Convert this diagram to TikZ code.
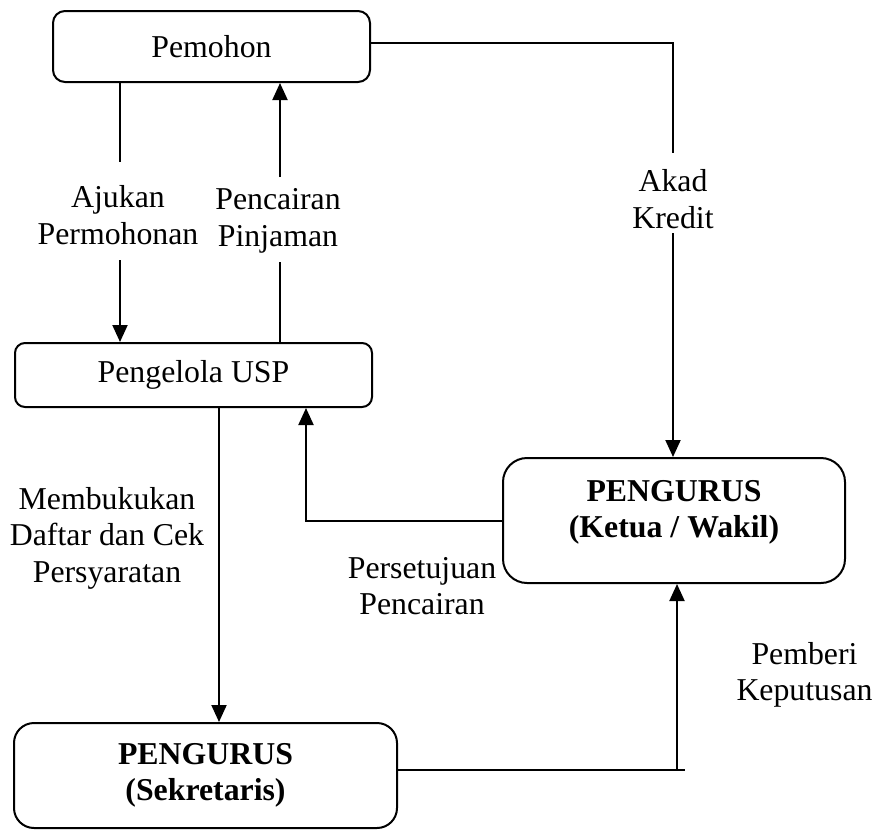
\documentclass[tikz,border=0pt]{standalone}
\usepackage{fontspec}
\setmainfont{Liberation Serif}
\usetikzlibrary{arrows.meta}
\begin{document}
\begin{tikzpicture}[x=1pt,y=-1pt, line width=2pt,
  txt/.style={font=\fontsize{31.8pt}{36.5pt}\selectfont, align=center, inner sep=0pt},
  btxt/.style={font=\fontsize{31.8pt}{36pt}\selectfont\bfseries, align=center, inner sep=0pt},
  box/.style={draw, rounded corners=#1, inner sep=0pt},
  box/.default=12pt,
  arr/.style={-{Triangle[width=15pt,length=17pt]}}]
\useasboundingbox (0,0) rectangle (874,830);
% boxes
\node[box=12pt, txt, minimum width=317pt, minimum height=71pt] (pemohon) at (211.5,46.5) {Pemohon};
\node[box=10pt, txt, minimum width=357pt, minimum height=64pt] (pengelola) at (193.5,375) {Pengelola USP};
\node[box=24pt, minimum width=342pt, minimum height=125pt] (ketua) at (674,520.5) {};
\node[btxt] (ketuatxt) at (674,512) {PENGURUS\\(Ketua / Wakil)};
\node[box=20pt, btxt, minimum width=383pt, minimum height=105pt] (sekretaris) at (205.5,775.5) {PENGURUS\\(Sekretaris)};
% labels
\node[txt] (ajukan) at (118,215) {Ajukan\\Permohonan};
\node[txt] (pencairan) at (278,221) {Pencairan\\Pinjaman};
\node[txt] (akad) at (673,199) {Akad\\Kredit};
\node[txt] (membukukan) at (107,538) {Membukukan\\Daftar dan Cek\\Persyaratan};
\node[txt] (persetujuan) at (422,586) {Persetujuan\\Pencairan};
\node[txt] (pemberi) at (804.5,675) {Pemberi\\Keputusan};
% connector coordinates
\coordinate (a1) at (120,162);
\coordinate (a2) at (120,260);
\coordinate (p1) at (280,262);
\coordinate (p2) at (280,177);
\coordinate (k0) at (673,43);
\coordinate (k1) at (673,153);
\coordinate (k2) at (673,233);
\coordinate (s1) at (306,520);
\coordinate (m1) at (219,0);
\coordinate (r1) at (685,770);
\coordinate (r2) at (677,770);
% connectors
\draw (pemohon.south -| a1) -- (a1);
\draw[arr] (a2) -- (a2 |- pengelola.north);
\draw (pengelola.north -| p1) -- (p1);
\draw[arr] (p2) -- (p2 |- pemohon.south);
\draw (pemohon.east |- k0) -- (k0) -- (k1);
\draw[arr] (k2) -- (k2 |- ketua.north);
\draw[arr] (ketua.west) -- (ketua.west -| s1) -- (s1 |- pengelola.south);
\draw[arr] (pengelola.south -| m1) -- (sekretaris.north -| m1);
\draw (sekretaris.east |- r1) -- (r1);
\draw[arr] (r2) -- (r2 |- ketua.south);
\end{tikzpicture}
\end{document}
